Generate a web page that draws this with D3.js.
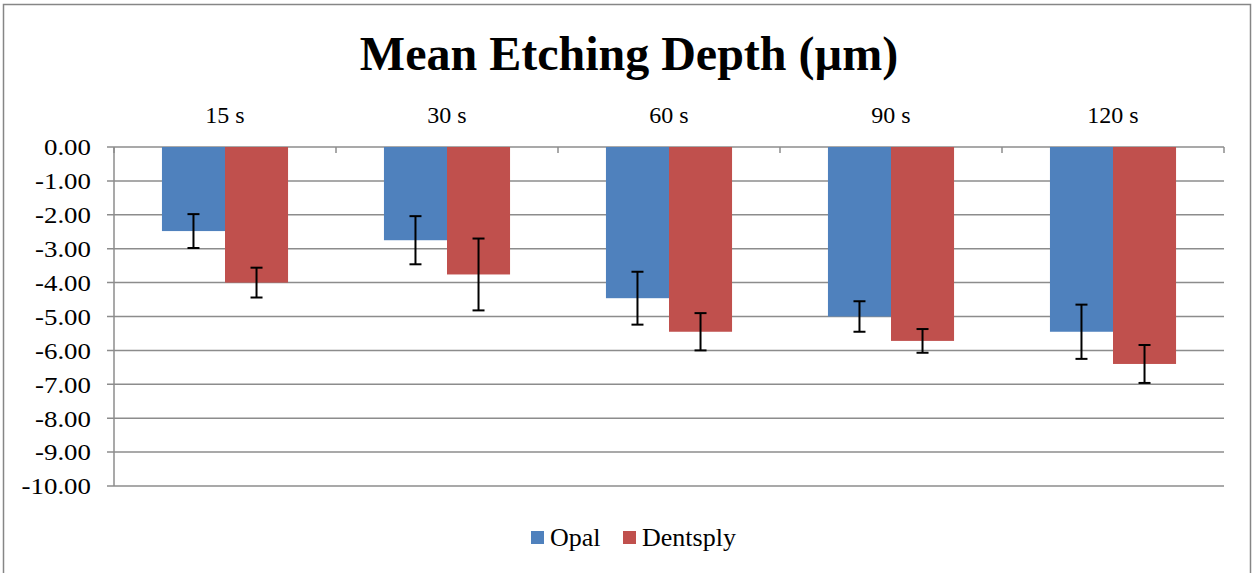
<!DOCTYPE html>
<html><head><meta charset="utf-8">
<script src="https://cdn.jsdelivr.net/npm/d3@7"></script>
<style>html,body{margin:0;padding:0;background:#fff;}svg{display:block;}</style>
</head><body>
<svg id="c" width="1255" height="573"></svg>
<script>
const categories = ["15 s", "30 s", "60 s", "90 s", "120 s"];
const seriesNames = ["Opal", "Dentsply"];
const opalMean = [-2.48, -2.75, -4.46, -5.0, -5.45];
const opalErr = [0.5, 0.71, 0.78, 0.45, 0.8];
const dentsplyMean = [-4.0, -3.76, -5.45, -5.72, -6.4];
const dentsplyErr = [0.44, 1.06, 0.55, 0.35, 0.56];
const yTicks = [0, -1, -2, -3, -4, -5, -6, -7, -8, -9, -10];
const colors = ["#4F81BD", "#C0504D"];

const svg = d3.select("#c");
const font = "'Liberation Serif','Times New Roman',serif";
const L = 114, R = 1224, T = 147, B = 486;

svg.append("rect").attr("x", 3.5).attr("y", 4.5).attr("width", 1247).attr("height", 580)
  .attr("fill", "#fff").attr("stroke", "#868686").attr("stroke-width", 1.5);

svg.append("text").attr("x", 629).attr("y", 70).attr("text-anchor", "middle")
  .attr("font-family", font).attr("font-weight", "bold").attr("font-size", 48)
  .text("Mean Etching Depth (µm)");

const y = d3.scaleLinear().domain([0, -10]).range([T, B]);
const x0 = d3.scaleBand().domain(categories).range([L, R]).paddingInner(0.432).paddingOuter(0.216);
const x1 = d3.scaleBand().domain(seriesNames).range([0, x0.bandwidth()]);

// gridlines
svg.append("g").selectAll("line").data(yTicks).join("line")
  .attr("x1", L - 7).attr("x2", R).attr("y1", d => y(d)).attr("y2", d => y(d))
  .attr("stroke", "#8c8c8c").attr("stroke-width", 1.5);

// y labels
svg.append("g").selectAll("text").data(yTicks).join("text")
  .attr("x", 91).attr("y", d => y(d)).attr("dy", "0.35em").attr("text-anchor", "end")
  .attr("font-family", font).attr("font-size", 24)
  .attr("transform", d => `translate(91,0) scale(1.12,1) translate(-91,0)`)
  .text(d => d3.format(".2f")(d).replace("\u2212", "-"));

// left axis
svg.append("line").attr("x1", L).attr("x2", L).attr("y1", T).attr("y2", B)
  .attr("stroke", "#8c8c8c").attr("stroke-width", 1.5);

// top category tick marks
const bounds = d3.range(categories.length + 1).map(i => L + i * (R - L) / categories.length);
svg.append("g").selectAll("line").data(bounds).join("line")
  .attr("x1", d => d).attr("x2", d => d).attr("y1", T).attr("y2", T + 6)
  .attr("stroke", "#8c8c8c").attr("stroke-width", 1.5);

// category labels
svg.append("g").selectAll("text").data(categories).join("text")
  .attr("x", d => L + (categories.indexOf(d) + 0.5) * (R - L) / categories.length)
  .attr("y", 123).attr("text-anchor", "middle")
  .attr("font-family", font).attr("font-size", 24).text(d => d);

const data = [];
categories.forEach((c, i) => {
  data.push({c, s: "Opal", v: opalMean[i], e: opalErr[i], col: colors[0]});
  data.push({c, s: "Dentsply", v: dentsplyMean[i], e: dentsplyErr[i], col: colors[1]});
});

svg.append("g").selectAll("rect").data(data).join("rect")
  .attr("x", d => x0(d.c) + x1(d.s)).attr("width", x1.bandwidth())
  .attr("y", d => y(0)).attr("height", d => y(d.v) - y(0))
  .attr("fill", d => d.col);

const eb = svg.append("g").attr("stroke", "#000").attr("stroke-width", 2);
data.forEach(d => {
  const cx = x0(d.c) + x1(d.s) + x1.bandwidth() / 2;
  const y1 = y(d.v + d.e), y2 = y(d.v - d.e);
  eb.append("line").attr("x1", cx).attr("x2", cx).attr("y1", y1).attr("y2", y2);
  eb.append("line").attr("x1", cx - 6).attr("x2", cx + 6).attr("y1", y1).attr("y2", y1);
  eb.append("line").attr("x1", cx - 6).attr("x2", cx + 6).attr("y1", y2).attr("y2", y2);
});

// legend
const lg = svg.append("g").attr("font-family", font).attr("font-size", 26);
const items = [{n: "Opal", x: 531}, {n: "Dentsply", x: 623}];
items.forEach((it, i) => {
  lg.append("rect").attr("x", it.x).attr("y", 531).attr("width", 13).attr("height", 13).attr("fill", colors[i]);
  lg.append("text").attr("x", it.x + 19).attr("y", 546).text(it.n);
});
</script>
</body></html>
